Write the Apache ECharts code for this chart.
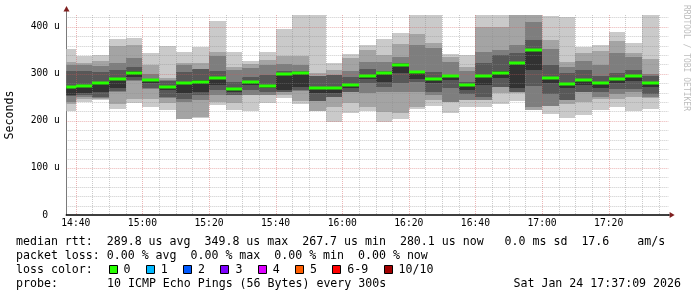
<!DOCTYPE html>
<html><head><meta charset="utf-8">
<script src="https://cdn.jsdelivr.net/npm/echarts@6/dist/echarts.min.js"></script>
<style>html,body{margin:0;padding:0;background:#fff}#c{width:697px;height:297px}</style>
</head><body><div id="c"></div><script>
// ---- data ----
const binEnds = ['14:40','14:45','14:50','14:55','15:00','15:05','15:10','15:15','15:20','15:25','15:30','15:35',
  '15:40','15:45','15:50','15:55','16:00','16:05','16:10','16:15','16:20','16:25','16:30','16:35',
  '16:40','16:45','16:50','16:55','17:00','17:05','17:10','17:15','17:20','17:25','17:30','17:35'];
const ping01 = [220,241,244,226,239,230,223,203,206,233,223,222,239,249,235,220,197,216,221,197,205,225,232,216,230,230,236,243,223,215,207,213,223,230,220,226];
const ping02 = [236,246,247,235,246,246,237,205,208,240,237,254,254,255,242,220,229,237,230,219,216,230,244,240,245,245,260,259,223,232,236,240,246,246,250,248];
const ping03 = [241,250,248,262,285,267,249,240,244,255,254,255,255,262,263,243,250,262,260,262,262,262,255,240,245,245,273,262,230,232,245,262,251,258,262,250];
const ping04 = [252,256,250,264,287,270,251,246,255,265,256,265,262,262,265,243,250,262,280,272,280,283,262,269,258,250,273,262,275,258,245,262,262,267,268,257];
const ping05 = [255,259,262,270,294,281,265,260,262,276,262,277,270,265,272,259,259,269,290,283,301,290,280,287,266,277,291,270,308,280,270,276,269,280,285,272];
const ping06 = [272,276,282,292,305,288,274,281,286,293,269,284,276,301,304,271,271,279,297,304,320,305,292,297,279,298,305,324,351,293,280,288,283,291,298,281];
const ping07 = [306,306,304,308,315,290,285,304,311,306,283,294,297,305,306,296,298,293,310,306,322,306,304,297,283,323,340,344,371,318,301,308,296,302,308,295];
const ping08 = [318,318,316,322,334,299,287,318,311,338,308,313,318,321,318,296,298,306,326,326,335,361,354,326,306,347,350,362,411,352,315,327,318,345,335,300];
const ping09 = [326,324,327,360,362,319,292,324,322,347,315,321,329,337,337,302,308,333,350,340,363,384,366,336,315,399,399,440,440,372,326,345,348,370,345,331];
const ping10 = [352,338,340,375,377,345,360,347,356,412,347,327,347,396,440,440,323,342,361,373,386,440,440,343,340,440,440,440,440,422,421,357,361,388,365,440];
const median = [271,274.5,280.5,290,302,286,272,279.5,283,291.5,267.7,282,274.5,299,302,269,269,277,295,302,318,303.6,290,295,277,296,302.8,322,349.8,291,278,286,281.5,288.6,296,280.1];

const xTickLabels = ['14:40','15:00','15:20','15:40','16:00','16:20','16:40','17:00','17:20'];
const yTickValues = [0,100,200,300,400];
const lossLabels = ['0','1','2','3','4','5','6-9','10/10'];
const lossColors = ['#26ff00','#00b8ff','#0059ff','#7e00ff','#dd00ff','#ff5e00','#ff0000','#a10000'];

const statLine1 = 'median rtt:  289.8 us avg  349.8 us max  267.7 us min  280.1 us now   0.0 ms sd  17.6    am/s';
const statLine2 = 'packet loss: 0.00 % avg  0.00 % max  0.00 % min  0.00 % now';
const probeText = '10 ICMP Echo Pings (56 Bytes) every 300s';
const dateText = 'Sat Jan 24 17:37:09 2026';
const X_START = '14:37:09', X_END = '17:38:00';
const Y_MAX = 425;

// ---- helpers ----
function toMin(s){const p=s.split(':').map(Number);return p[0]*60+p[1]+(p[2]||0)/60;}
function fmtMin(v){const h=Math.floor(v/60), m=Math.round(v-h*60);return String(h).padStart(2,'0')+':'+String(m).padStart(2,'0');}
const xMin = toMin(X_START), xMax = toMin(X_END);
const pings = [ping01,ping02,ping03,ping04,ping05,ping06,ping07,ping08,ping09,ping10];
const smokeData = binEnds.map((e,k)=>{const t1=toMin(e);return [t1-5,t1].concat(pings.map(p=>p[k]));});
const medianData = binEnds.map((e,k)=>{const t1=toMin(e);return [t1-5,t1,median[k]];});
const smokeColors = ['#cacaca','#a4a4a4','#7e7e7e','#585858','#323232'];

const vGrid = [];
for (let t = Math.ceil(xMin/5)*5; t < xMax; t += 5) vGrid.push([t, 0, (t % 20 === 0) ? 1 : 0]);
const hGrid = [];
for (let v = 20; v < Y_MAX; v += 20) hGrid.push([xMin, v, (v % 100 === 0) ? 1 : 0]);

const MONO = '"DejaVu Sans Mono", monospace';
const GRID_MINOR = 'rgba(140,140,140,0.45)';
const GRID_MAJOR = 'rgba(210,90,90,0.45)';

function csRect(cs){return {x:cs.x,y:cs.y,width:cs.width,height:cs.height};}

const chart = echarts.init(document.getElementById('c'), null, {renderer:'canvas'});
const option = {
  animation:false,
  backgroundColor:'#ffffff',
  grid:{left:66.3, right:28.4, top:15, bottom:82, containLabel:false, outerBoundsMode:'none'},
  xAxis:{type:'value', min:xMin, max:xMax,
    splitLine:{show:false}, axisTick:{show:false},
    axisLine:{show:true, onZero:false, lineStyle:{color:'#000', width:1.5}},
    axisLabel:{customValues:xTickLabels.map(toMin), formatter:fmtMin, fontFamily:MONO, fontSize:9.7, color:'#000', margin:3}
  },
  yAxis:{type:'value', min:0, max:Y_MAX,
    splitLine:{show:false}, axisTick:{show:false},
    axisLine:{show:true, lineStyle:{color:'#7a7a7a', width:1}},
    axisLabel:{customValues:yTickValues, formatter:v=> v===0 ? '0  ' : v+' u', fontFamily:MONO, fontSize:9.7, color:'#000', margin:6.5},
    name:'Seconds', nameLocation:'middle', nameGap:50, nameRotate:90,
    nameTextStyle:{fontFamily:MONO, fontSize:11.6, color:'#000'}
  },
  series:[
    {type:'custom', name:'smoke', z:2, data:smokeData, encode:{x:[0,1], y:[2,11]},
      renderItem:(params, api)=>{
        const t0=api.value(0), t1=api.value(1), children=[];
        for (let i=0;i<5;i++){
          const lo=api.value(2+i), hi=api.value(11-i);
          const a=api.coord([t0,hi]), b=api.coord([t1,lo]);
          const x0=Math.round(a[0]), x1=Math.round(b[0]), y0=Math.round(a[1]), y1=Math.round(b[1]);
          const r=echarts.graphic.clipRectByRect({x:x0,y:y0,width:x1-x0,height:y1-y0}, csRect(params.coordSys));
          if (r && r.width>0 && r.height>0) children.push({type:'rect', shape:r, style:{fill:smokeColors[i]}});
        }
        return {type:'group', children};
      }},
    {type:'custom', name:'vgrid', z:3, silent:true, data:vGrid, encode:{x:0,y:1},
      renderItem:(params, api)=>{
        const cs=params.coordSys; const x=Math.round(api.coord([api.value(0),0])[0])+0.5;
        return {type:'line', shape:{x1:x,y1:cs.y,x2:x,y2:cs.y+cs.height}, style:{stroke:api.value(2)?GRID_MAJOR:GRID_MINOR, lineWidth:1, lineDash:[1,1]}};
      }},
    {type:'custom', name:'hgrid', z:3, silent:true, data:hGrid, encode:{x:0,y:1},
      renderItem:(params, api)=>{
        const cs=params.coordSys; const y=Math.round(api.coord([xMin,api.value(1)])[1])+0.5;
        return {type:'line', shape:{x1:cs.x,y1:y,x2:cs.x+cs.width,y2:y}, style:{stroke:api.value(2)?GRID_MAJOR:GRID_MINOR, lineWidth:1, lineDash:[1,1]}};
      }},
    {type:'custom', name:'median', z:4, data:medianData, encode:{x:[0,1], y:2},
      renderItem:(params, api)=>{
        const a=api.coord([api.value(0),api.value(2)]), b=api.coord([api.value(1),api.value(2)]);
        const x0=Math.round(a[0]), x1=Math.round(b[0]), y=Math.round(a[1]);
        const r=echarts.graphic.clipRectByRect({x:x0,y:y-1.5,width:x1-x0,height:3}, csRect(params.coordSys));
        return r ? {type:'rect', shape:r, style:{fill:lossColors[0]}} : null;
      }}
  ]
};
chart.setOption(option);

const ax = chart.convertToPixel({xAxisIndex:0}, xMin);
const axR = chart.convertToPixel({xAxisIndex:0}, xMax);
const ay0 = chart.convertToPixel({yAxisIndex:0}, 0);
const ayT = chart.convertToPixel({yAxisIndex:0}, Y_MAX);
const ARROW = '#7f1f1f';
const g = [];
g.push({type:'line', shape:{x1:Math.round(ax)+0.5,y1:ayT,x2:Math.round(ax)+0.5,y2:ayT-4}, style:{stroke:'#7a7a7a',lineWidth:1}});
g.push({type:'polygon', shape:{points:[[Math.round(ax)+0.5,ayT-9],[Math.round(ax)-2.5,ayT-3.5],[Math.round(ax)+3.5,ayT-3.5]]}, style:{fill:ARROW}});
g.push({type:'line', shape:{x1:axR,y1:ay0,x2:axR+1,y2:ay0}, style:{stroke:'#000',lineWidth:1.5}});
g.push({type:'polygon', shape:{points:[[axR+6,ay0],[axR+1,ay0-3],[axR+1,ay0+3]]}, style:{fill:ARROW}});
const txt = (x,y,t,extra)=>Object.assign({type:'text', x, y, style:Object.assign({text:t, fontFamily:'DejaVu Sans Mono', fontSize:11.6, fill:'#000', verticalAlign:'middle', align:'left'}, extra||{})});
g.push(txt(16,241.5,statLine1));
g.push(txt(16,255.5,statLine2));
g.push(txt(16,269.5,'loss color:'));
let bx = 108.5;
lossLabels.forEach((l,i)=>{
  g.push({type:'rect', shape:{x:Math.round(bx)+0.5,y:265.5,width:8,height:8}, style:{fill:lossColors[i], stroke:'#000', lineWidth:1}});
  g.push(txt(bx+15,269.5,l));
  bx = bx + 15 + l.length*7.0 + 15.3;
});
g.push(txt(16,283.5,'probe:'));
g.push(txt(107,283.5,probeText));
g.push(txt(681,283.5,dateText,{align:'right'}));
g.push({type:'text', x:686, y:5, rotation:-Math.PI/2, style:{text:'RRDTOOL / TOBI OETIKER', fontFamily:'DejaVu Sans Mono', fontSize:8, fill:'#bdbdbd', verticalAlign:'middle', align:'left'}});
chart.setOption({graphic:g});
</script></body></html>
